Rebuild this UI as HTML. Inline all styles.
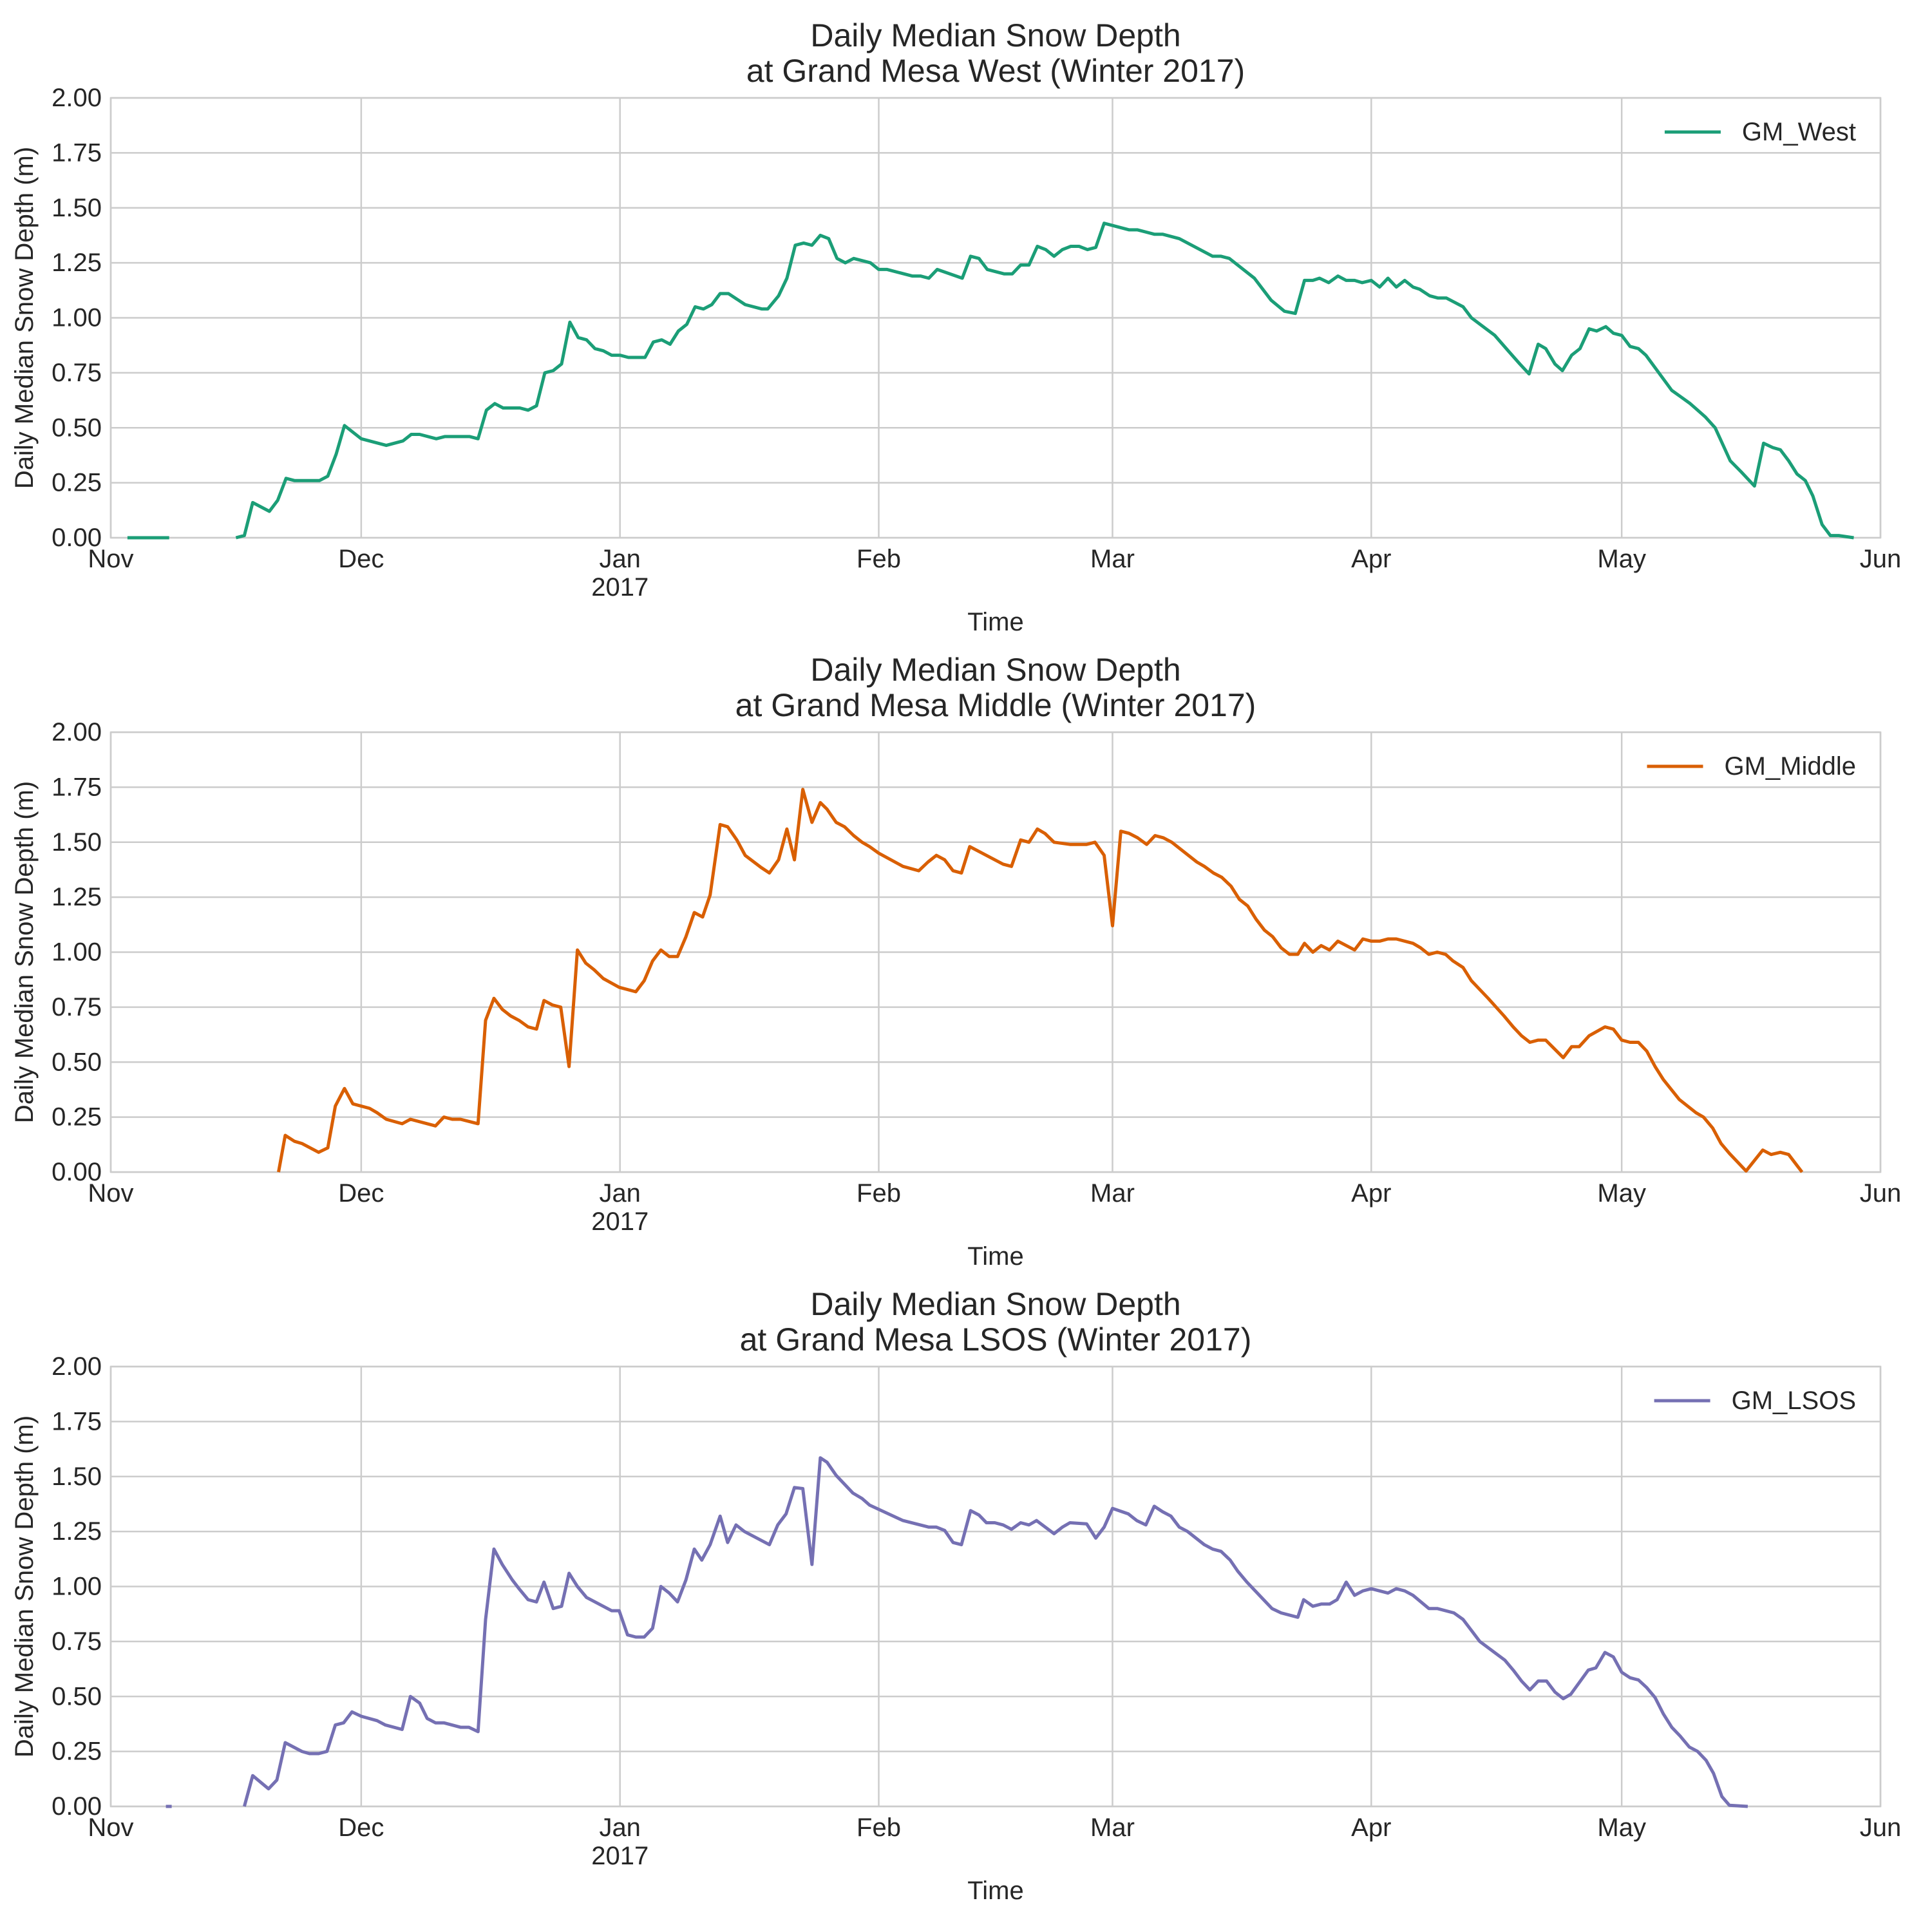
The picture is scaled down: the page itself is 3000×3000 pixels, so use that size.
<!DOCTYPE html>
<html><head><meta charset="utf-8"><style>
html,body{margin:0;padding:0;background:#fff;}
svg{display:block;font-family:"Liberation Sans",Arial,sans-serif;}
</style></head><body>
<svg id="fig" width="3000" height="3000" viewBox="0 0 3000 3000" xmlns="http://www.w3.org/2000/svg"></svg>
<script>
const monthLabels = ["Nov","Dec","Jan","Feb","Mar","Apr","May","Jun"];
const monthDays = [0,30,61,92,120,151,181,212];
const yTicks = [0,0.25,0.5,0.75,1.0,1.25,1.5,1.75,2.0];
const seriesNames = ["GM_West","GM_Middle","GM_LSOS"];
const siteNames = ["West","Middle","LSOS"];
const colors = ["#1b9e77","#d95f02","#7570b3"];

const westDays = [2,7,null,15,16,17,19,20,21,22,25,26,27,28,30,33,35,36,37,39,40,43,44,45,46,47,49,50,51,52,53,54,55,56,57,58,59,60,61,62,64,65,66,67,68,69,70,71,72,73,74,76,78,78.7,80,81,82,83,84,85,86,87,88,89,91,92,93,96,97,98,99,102,103,104,105,107,108,109,110,111,112,113,114,115,116,117,118,119,122,123,125,126,128,132,133,134,137,139,140.6,141.9,143,144,144.8,145.9,147,148,149,149.9,151,152,153,154,155,156,156.8,158,159,160,161,162,163,165.8,167.4,168.8,169.9,171,171.9,173,173.9,175,176,177.1,178,179.1,180,181,182,183,183.9,187,188.1,189.2,191,192.2,194,195.3,196.9,198,199.1,200,201,202,203,203.9,205,206,207,208.8];
const westVals = [0,0,null,0,0.01,0.16,0.12,0.17,0.27,0.26,0.26,0.28,0.38,0.51,0.45,0.42,0.44,0.47,0.47,0.45,0.46,0.46,0.45,0.58,0.61,0.59,0.59,0.58,0.60,0.75,0.76,0.79,0.98,0.91,0.90,0.86,0.85,0.83,0.83,0.82,0.82,0.89,0.90,0.88,0.94,0.97,1.05,1.04,1.06,1.11,1.11,1.06,1.04,1.04,1.10,1.18,1.33,1.34,1.33,1.375,1.36,1.27,1.25,1.27,1.25,1.22,1.22,1.19,1.19,1.18,1.22,1.18,1.28,1.27,1.22,1.20,1.20,1.24,1.24,1.325,1.31,1.28,1.31,1.325,1.325,1.31,1.32,1.43,1.40,1.40,1.38,1.38,1.36,1.28,1.28,1.27,1.18,1.08,1.03,1.02,1.17,1.17,1.18,1.16,1.19,1.17,1.17,1.16,1.17,1.14,1.18,1.14,1.17,1.14,1.13,1.10,1.09,1.09,1.07,1.05,1.00,0.92,0.85,0.79,0.745,0.88,0.86,0.79,0.76,0.83,0.86,0.95,0.94,0.96,0.93,0.92,0.87,0.86,0.83,0.67,0.64,0.61,0.55,0.50,0.35,0.30,0.235,0.43,0.41,0.40,0.35,0.29,0.26,0.19,0.06,0.01,0.01,0];

const middleDays = [20.1,20.9,22,22.9,24.9,26,26.9,28,29,31,31.9,33,34.9,35.9,38.9,39.9,40.9,41.9,44,44.9,45.9,46.9,47.9,48.9,50,51,51.9,52.9,53.9,54.9,55.9,56.9,57.9,59,60.9,62.9,63.9,64.9,65.9,66.9,67.9,68.9,69.9,70.9,71.8,73,73.9,75,76,77.9,78.9,80,81,81.9,82.9,84,85,85.8,86.9,87.9,89,90,90.9,92,94.9,96.8,97.9,98.9,99.9,100.9,101.9,102.9,106.9,107.9,109,110,111,111.9,113,114.9,116.9,117.9,119,120,121,122,123,124.1,125.1,126.1,127.1,130.1,131,132.1,133.1,134.2,135.2,136.2,137.2,138.2,139.2,140.2,141.2,142.2,143,144,145,146,147,149,150,151,152,153,154,156,156.9,157.9,158.9,159.9,160.8,162,163,165,166.9,168,169,170,171,171.9,174,175,175.9,177.1,179,180,181,182,183,184,185,186,187.9,189.9,190.8,191.9,192.9,193.9,195.9,197.9,198.9,200,201,202,202.6];
const middleVals = [0,0.167,0.14,0.13,0.09,0.11,0.30,0.38,0.31,0.29,0.27,0.24,0.22,0.24,0.21,0.25,0.24,0.24,0.22,0.69,0.79,0.74,0.71,0.69,0.66,0.65,0.78,0.76,0.75,0.48,1.01,0.95,0.92,0.88,0.84,0.82,0.87,0.96,1.01,0.98,0.98,1.07,1.18,1.16,1.26,1.58,1.57,1.51,1.44,1.385,1.36,1.42,1.56,1.42,1.74,1.59,1.68,1.65,1.59,1.57,1.53,1.50,1.48,1.45,1.39,1.37,1.41,1.44,1.42,1.37,1.36,1.48,1.40,1.39,1.51,1.50,1.56,1.54,1.50,1.49,1.49,1.50,1.44,1.12,1.55,1.54,1.52,1.49,1.53,1.52,1.50,1.41,1.39,1.36,1.34,1.30,1.24,1.21,1.15,1.10,1.07,1.02,0.99,0.99,1.04,1.00,1.03,1.01,1.05,1.01,1.06,1.05,1.05,1.06,1.06,1.04,1.02,0.99,1.00,0.99,0.96,0.93,0.87,0.79,0.71,0.66,0.62,0.59,0.60,0.60,0.52,0.57,0.57,0.62,0.66,0.65,0.60,0.59,0.59,0.55,0.48,0.42,0.33,0.27,0.25,0.20,0.13,0.085,0.005,0.10,0.08,0.09,0.08,0.03,0];

const lsosDays = [6.6,7.3,null,16,17,18.9,19.9,20.9,22.9,23.8,24.9,25.9,26.9,27.9,28.9,30,31.9,32.9,34.9,35.9,37,37.9,38.9,39.9,41.9,42.9,44,44.9,45.9,46.9,48.1,48.9,50,51,51.9,53,54,54.9,55.9,57,60,60.9,61.9,62.9,63.9,64.9,65.9,66.9,67.9,68.9,69.9,70.8,71.8,73,73.9,74.9,75.9,78.9,79.9,80.9,81.9,82.9,84,85,85.8,86.9,88.9,90,90.9,94.9,98,98.9,99.9,100.9,101.9,103,104,104.9,105.9,106.9,107.9,109,110,110.9,113,114,114.9,116.9,118,119,120,121.9,122.9,124,125,126,127,128,129,131,132,133,134.1,135,136.1,138.1,139.1,140.2,142.2,142.9,144,145,146,146.9,148,149,150,151,153,154,155,156,157.9,158.9,160.9,162,164,167,168,169,170,171,172,173,174,174.9,177,177.9,179,180,181,182,183,184,185,186,187,188,189.1,190.1,191.1,192,193,193.9,196.1];
const lsosVals = [0,0,null,0,0.14,0.08,0.12,0.29,0.25,0.24,0.24,0.25,0.37,0.38,0.43,0.41,0.39,0.37,0.35,0.50,0.47,0.40,0.38,0.38,0.36,0.36,0.34,0.85,1.17,1.10,1.03,0.99,0.94,0.93,1.02,0.90,0.91,1.06,1.00,0.95,0.89,0.89,0.78,0.77,0.77,0.81,1.00,0.97,0.93,1.03,1.17,1.12,1.19,1.32,1.20,1.28,1.25,1.19,1.28,1.33,1.45,1.445,1.10,1.585,1.565,1.505,1.425,1.40,1.37,1.30,1.27,1.27,1.255,1.20,1.19,1.345,1.325,1.29,1.29,1.28,1.26,1.29,1.28,1.30,1.24,1.27,1.29,1.285,1.22,1.27,1.355,1.33,1.30,1.28,1.365,1.34,1.32,1.27,1.25,1.19,1.17,1.16,1.12,1.07,1.02,0.94,0.90,0.88,0.86,0.94,0.91,0.92,0.92,0.94,1.02,0.96,0.98,0.99,0.97,0.99,0.98,0.96,0.90,0.90,0.88,0.85,0.75,0.665,0.62,0.57,0.53,0.57,0.57,0.52,0.49,0.51,0.62,0.63,0.70,0.68,0.61,0.585,0.575,0.54,0.495,0.42,0.36,0.32,0.27,0.25,0.21,0.15,0.045,0.005,0];

const allDays = [westDays, middleDays, lsosDays];
const allVals = [westVals, middleVals, lsosVals];

const NS = "http://www.w3.org/2000/svg";
const svg = document.getElementById("fig");
const L = 172, R = 2920, H = 683;
const tops = [152, 1137, 2122];
function xs(d){ return L + d/212*(R-L); }
function mk(tag, attrs, parent){
  const e = document.createElementNS(NS, tag);
  for (const k in attrs) e.setAttribute(k, attrs[k]);
  (parent||svg).appendChild(e);
  return e;
}

for (let p=0;p<3;p++){
  const T = tops[p], B = T+H;
  const ys = v => T + (2 - v)/2*H;
  const g = mk("g", {});
  
  
  // grid
  yTicks.forEach(t=>{
    const ln = mk("line",{x1:L,x2:R,y1:ys(t),y2:ys(t),stroke:"#cccccc","stroke-width":2.5},g);
    
    
    const tx = mk("text",{x:158,y:ys(t),"text-anchor":"end","dominant-baseline":"central","font-size":40,fill:"#262626"},g);
    tx.textContent = t.toFixed(2);
    
    
  });
  monthDays.forEach((d,i)=>{
    const ln = mk("line",{x1:xs(d),x2:xs(d),y1:T,y2:B,stroke:"#cccccc","stroke-width":2.5},g);
    
    
    const tx = mk("text",{x:xs(d),y:B+46,"text-anchor":"middle","font-size":40,fill:"#262626"},g);
    tx.textContent = monthLabels[i];
    
    
  });
  const yr = mk("text",{x:xs(61),y:B+90,"text-anchor":"middle","font-size":40,fill:"#262626"},g);
  yr.textContent = "2017";
  
  
  // spines
  const sp = mk("rect",{x:L,y:T,width:R-L,height:H,fill:"none",stroke:"#cccccc","stroke-width":2.5},g);
  
  
  // series
  const days = allDays[p], vals = allVals[p];
  let dstr = "", pen = false;
  for (let i=0;i<days.length;i++){
    if (days[i]===null || vals[i]===null){ pen=false; continue; }
    dstr += (pen?"L":"M") + xs(days[i]).toFixed(1) + " " + ys(vals[i]).toFixed(1) + " ";
    pen = true;
  }
  const path = mk("path",{d:dstr,fill:"none",stroke:colors[p],"stroke-width":5,"stroke-linejoin":"round","stroke-linecap":"butt"},g);
  
  
  // titles
  const t1 = mk("text",{x:(L+R)/2,y:T-80,"text-anchor":"middle","font-size":50,fill:"#262626"},g);
  t1.textContent = "Daily Median Snow Depth";
  
  
  const t2 = mk("text",{x:(L+R)/2,y:T-25,"text-anchor":"middle","font-size":50,fill:"#262626"},g);
  t2.textContent = "at Grand Mesa " + siteNames[p] + " (Winter 2017)";
  
  
  // axis labels
  const xl = mk("text",{x:(L+R)/2,y:B+144,"text-anchor":"middle","font-size":40,fill:"#262626"},g);
  xl.textContent = "Time";
  
  
  const cy = T+H/2;
  const yl = mk("text",{x:38,y:cy,"text-anchor":"middle","dominant-baseline":"central","font-size":40,fill:"#262626",transform:"rotate(-90 38 "+cy+")"},g);
  yl.textContent = "Daily Median Snow Depth (m)";
  
  
  // legend
  const lg = mk("g",{},g);
  
  
  const ly = T+53;
  const lt = mk("text",{x:2882,y:ly,"text-anchor":"end","dominant-baseline":"central","font-size":40,fill:"#262626"},lg);
  lt.textContent = seriesNames[p];
  
  
  const w = lt.getComputedTextLength();
  const ll = mk("line",{x1:2882-w-120,x2:2882-w-33,y1:ly,y2:ly,stroke:colors[p],"stroke-width":5},lg);
  
  
}
</script>
</body></html>
